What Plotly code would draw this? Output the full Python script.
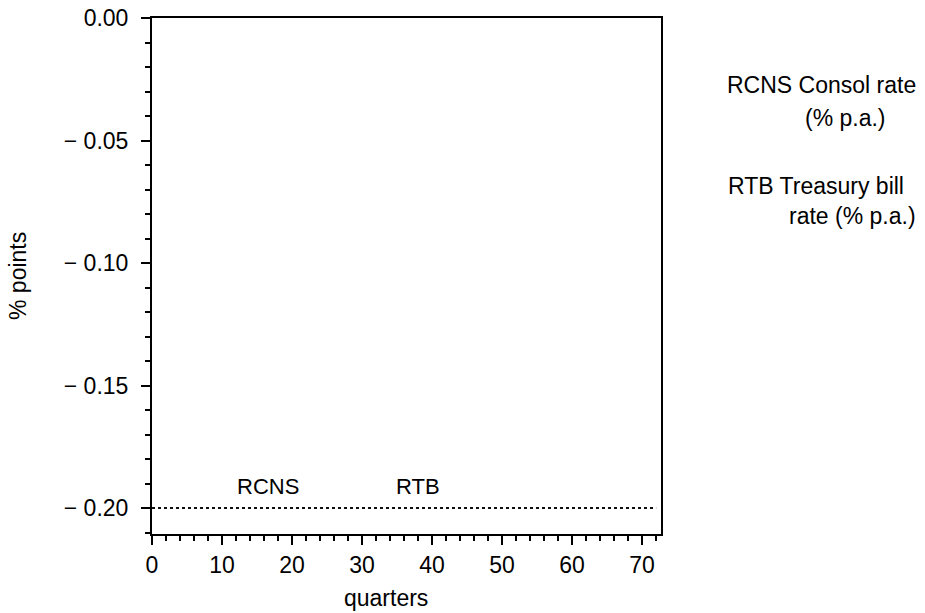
import plotly.graph_objects as go

quarters = list(range(0, 73))
rcns = [-0.20] * len(quarters)
rtb = [-0.20] * len(quarters)

series_names = ["RCNS", "RTB"]
label_x = [16.6, 38.0]
label_y = [-0.1914, -0.1914]

legend_lines = ["RCNS Consol rate", "(% p.a.)", "RTB Treasury bill", "rate (% p.a.)"]

FONT = "Liberation Sans, Arial, Helvetica, sans-serif"
W, H = 925, 613
L, R, T, B = 152, 264, 18, 79
PW, PH = W - L - R, H - T - B


def px_x(px):
    return (px - L) / PW


def px_y(py):
    return (H - B - py) / PH


fig = go.Figure()
for name, vals in zip(series_names, [rcns, rtb]):
    fig.add_trace(go.Scatter(
        x=quarters, y=vals, mode="lines", name=name,
        line=dict(color="black", width=1.6, dash="dot"),
        showlegend=False, hoverinfo="skip",
    ))

for name, lx, ly in zip(series_names, label_x, label_y):
    fig.add_annotation(x=lx, y=ly, text=name, showarrow=False,
                       xref="x", yref="y", yanchor="middle",
                       font=dict(size=22, color="black", family=FONT))

legend_pos = [(918, 85), (888, 118), (906, 186), (918, 216)]
for txt, (xp, yp) in zip(legend_lines, legend_pos):
    fig.add_annotation(
        x=px_x(xp), y=px_y(yp), xref="paper", yref="paper", text=txt,
        showarrow=False, xanchor="right", yanchor="middle",
        font=dict(size=23, color="black", family=FONT),
    )

# axis titles
fig.add_annotation(x=px_x(386), y=px_y(598), xref="paper", yref="paper",
                   text="quarters", showarrow=False, xanchor="center",
                   yanchor="middle",
                   font=dict(size=23, color="black", family=FONT))
fig.add_annotation(x=px_x(18), y=px_y(276), xref="paper", yref="paper",
                   text="% points", showarrow=False, textangle=-90,
                   xanchor="center", yanchor="middle",
                   font=dict(size=23, color="black", family=FONT))

axis_common = dict(
    showline=True, linecolor="black", linewidth=2, mirror=True,
    ticks="outside", tickcolor="black", tickwidth=1.5,
    showgrid=False, zeroline=False,
    tickfont=dict(size=23, color="black", family=FONT),
)

fig.update_xaxes(
    range=[0, 72.7], tickvals=[0, 10, 20, 30, 40, 50, 60, 70],
    ticklen=9, automargin=False,
    minor=dict(dtick=2, tick0=0, ticks="outside", ticklen=5,
               tickcolor="black", tickwidth=1.5, showgrid=False),
    **axis_common,
)
fig.update_yaxes(
    range=[-0.2106, 0.0], tickvals=[0.0, -0.05, -0.10, -0.15, -0.20],
    ticktext=["0.00", "\u2212 0.05", "\u2212 0.10", "\u2212 0.15", "\u2212 0.20"],
    ticklen=9, ticklabelstandoff=8, automargin=False,
    minor=dict(dtick=0.01, tick0=0, ticks="outside", ticklen=5,
               tickcolor="black", tickwidth=1.5, showgrid=False),
    **axis_common,
)

fig.update_layout(
    width=W, height=H,
    margin=dict(l=L, r=R, t=T, b=B, autoexpand=False),
    paper_bgcolor="white", plot_bgcolor="white",
    showlegend=False,
)

fig.write_html("out.html", config={"displayModeBar": False},
               post_script="document.body.style.margin='0px';document.body.style.overflow='hidden';")
